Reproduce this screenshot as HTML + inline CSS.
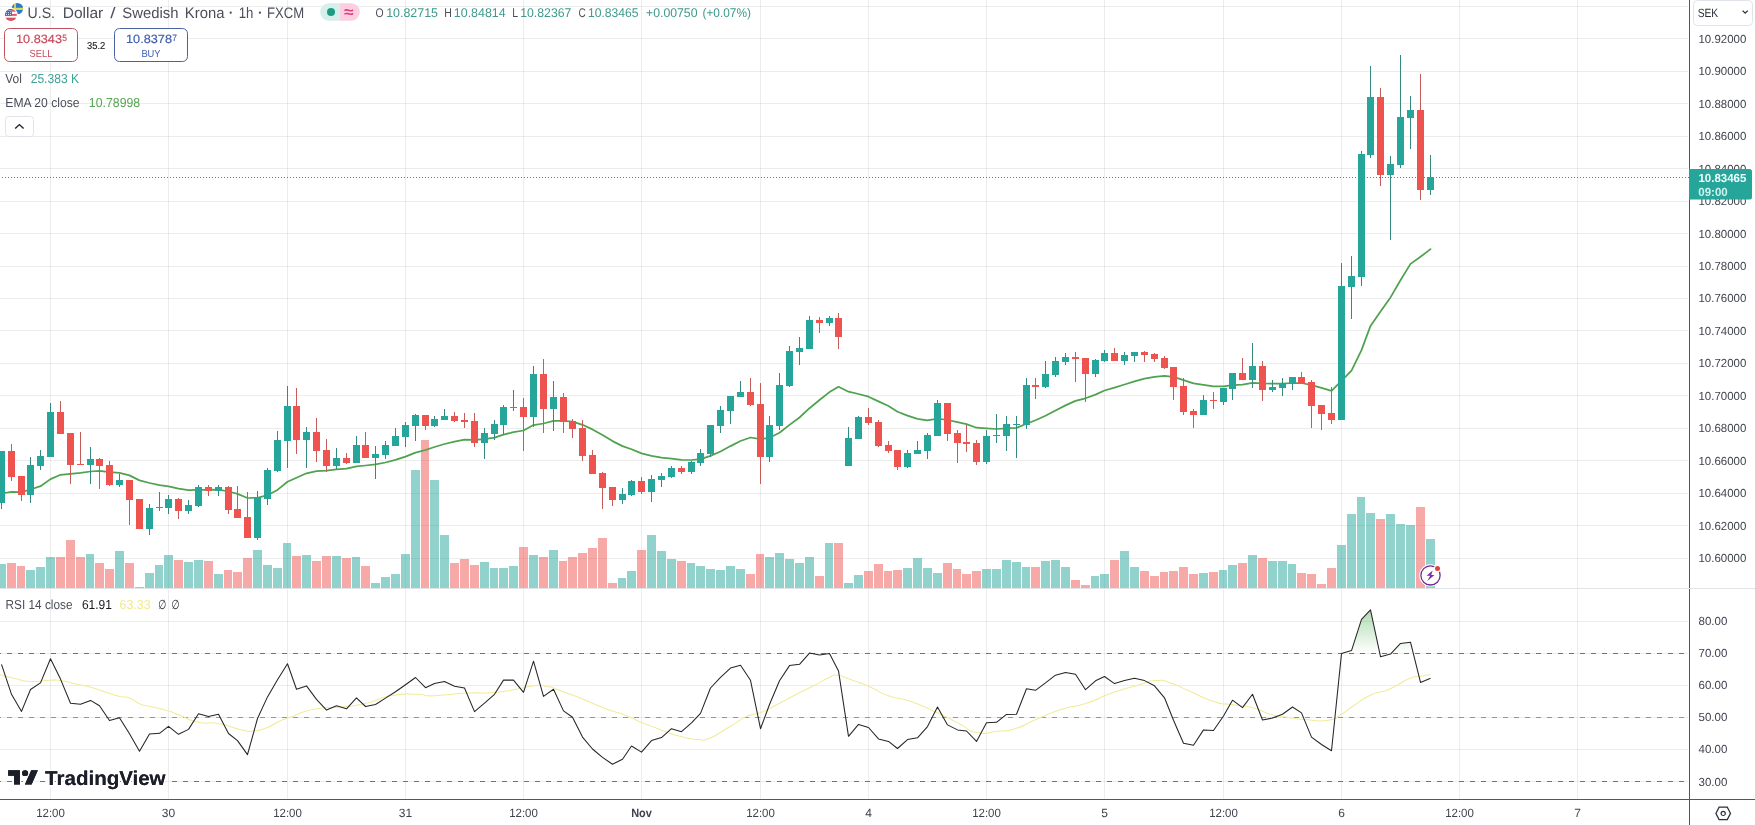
<!DOCTYPE html>
<html><head><meta charset="utf-8"><title>USDSEK chart</title><style>html,body{margin:0;padding:0;background:#fff;overflow:hidden}body{width:1755px;height:825px;font-family:"Liberation Sans",sans-serif}</style></head><body>
<svg width="1755" height="825" viewBox="0 0 1755 825" style="display:block;will-change:transform;text-rendering:geometricPrecision;font-family:'Liberation Sans',sans-serif">
<rect width="1755" height="825" fill="#fff"/>
<path d="M50.5 0V799 M168.5 0V799 M287.5 0V799 M405.5 0V799 M523.5 0V799 M641.5 0V799 M760.5 0V799 M868.5 0V799 M986.5 0V799 M1104.5 0V799 M1223.5 0V799 M1341.5 0V799 M1459.5 0V799 M1577.5 0V799" stroke="#2a2e39" stroke-opacity=".088" stroke-width="1" fill="none" shape-rendering="crispEdges"/>
<path d="M0 558.5H1688 M0 525.5H1688 M0 493.5H1688 M0 460.5H1688 M0 428.5H1688 M0 395.5H1688 M0 363.5H1688 M0 330.5H1688 M0 298.5H1688 M0 266.5H1688 M0 233.5H1688 M0 201.5H1688 M0 168.5H1688 M0 136.5H1688 M0 103.5H1688 M0 71.5H1688 M0 38.5H1688 M0 6.5H1688 M0 621.5H1688 M0 653.5H1688 M0 685.5H1688 M0 717.5H1688 M0 749.5H1688 M0 781.5H1688" stroke="#2a2e39" stroke-opacity=".088" stroke-width="1" fill="none" shape-rendering="crispEdges"/>
<path d="M0 564h6V588h-6zM26 570h9V588h-9zM36 567h9V588h-9zM46 557h9V588h-9zM86 554h8V588h-8zM115 551h9V588h-9zM145 573h9V588h-9zM155 565h8V588h-8zM164 555h9V588h-9zM184 562h9V588h-9zM194 560h9V588h-9zM214 574h9V588h-9zM253 550h9V588h-9zM263 565h9V588h-9zM273 568h9V588h-9zM283 543h8V588h-8zM302 555h9V588h-9zM332 556h9V588h-9zM352 557h8V588h-8zM371 583h9V588h-9zM381 577h9V588h-9zM391 574h9V588h-9zM401 554h9V588h-9zM411 470h9V588h-9zM430 480h9V588h-9zM440 535h9V588h-9zM480 562h9V588h-9zM490 568h8V588h-8zM499 568h9V588h-9zM509 566h9V588h-9zM529 555h9V588h-9zM549 550h9V588h-9zM618 578h8V588h-8zM627 571h9V588h-9zM647 535h9V588h-9zM657 551h9V588h-9zM667 559h9V588h-9zM687 563h8V588h-8zM696 566h9V588h-9zM706 569h9V588h-9zM716 570h9V588h-9zM726 566h9V588h-9zM736 569h9V588h-9zM765 557h9V588h-9zM775 553h9V588h-9zM785 559h9V588h-9zM795 563h9V588h-9zM805 557h9V588h-9zM825 543h8V588h-8zM844 583h9V588h-9zM854 575h9V588h-9zM903 568h9V588h-9zM913 558h9V588h-9zM923 568h9V588h-9zM933 573h9V588h-9zM982 569h9V588h-9zM992 569h9V588h-9zM1002 560h9V588h-9zM1012 562h9V588h-9zM1022 567h8V588h-8zM1041 561h9V588h-9zM1051 560h9V588h-9zM1061 567h9V588h-9zM1091 576h8V588h-8zM1100 574h9V588h-9zM1120 551h9V588h-9zM1130 567h9V588h-9zM1199 573h9V588h-9zM1219 570h8V588h-8zM1228 565h9V588h-9zM1248 555h9V588h-9zM1268 561h9V588h-9zM1278 561h9V588h-9zM1288 564h8V588h-8zM1337 545h9V588h-9zM1347 514h9V588h-9zM1357 497h8V588h-8zM1366 513h9V588h-9zM1386 514h9V588h-9zM1396 524h9V588h-9zM1406 525h9V588h-9zM1426 539h9V588h-9z" fill="#26a69a" fill-opacity=".5" shape-rendering="crispEdges"/>
<path d="M7 563h9V588h-9zM17 566h8V588h-8zM56 557h9V588h-9zM66 540h9V588h-9zM76 557h9V588h-9zM95 563h9V588h-9zM105 569h9V588h-9zM125 563h9V588h-9zM135 587h9V588h-9zM174 560h9V588h-9zM204 561h9V588h-9zM224 570h8V588h-8zM233 572h9V588h-9zM243 558h9V588h-9zM292 556h9V588h-9zM312 561h9V588h-9zM322 556h9V588h-9zM342 558h9V588h-9zM361 566h9V588h-9zM421 440h8V588h-8zM450 563h9V588h-9zM460 559h9V588h-9zM470 565h9V588h-9zM519 547h9V588h-9zM539 557h9V588h-9zM559 561h8V588h-8zM568 557h9V588h-9zM578 553h9V588h-9zM588 548h9V588h-9zM598 538h9V588h-9zM608 583h9V588h-9zM637 550h9V588h-9zM677 561h9V588h-9zM746 574h9V588h-9zM756 554h8V588h-8zM815 576h9V588h-9zM834 543h9V588h-9zM864 571h9V588h-9zM874 564h9V588h-9zM884 571h8V588h-8zM893 570h9V588h-9zM943 563h9V588h-9zM953 569h8V588h-8zM962 574h9V588h-9zM972 571h9V588h-9zM1031 567h9V588h-9zM1071 580h9V588h-9zM1081 585h9V588h-9zM1110 560h9V588h-9zM1140 571h9V588h-9zM1150 576h9V588h-9zM1160 572h8V588h-8zM1169 571h9V588h-9zM1179 567h9V588h-9zM1189 574h9V588h-9zM1209 572h9V588h-9zM1238 563h9V588h-9zM1258 558h9V588h-9zM1297 573h9V588h-9zM1307 574h9V588h-9zM1317 584h9V588h-9zM1327 568h9V588h-9zM1376 519h9V588h-9zM1416 507h9V588h-9z" fill="#ef5350" fill-opacity=".5" shape-rendering="crispEdges"/>
<polyline points="-9,493.5 1.5,493.5 11.5,491.9 21.5,492.1 30.5,489.5 40.5,486.2 50.5,479.1 60.5,474.8 70.5,473.8 80.5,472.9 90.5,471.5 99.5,470.9 109.5,472.2 119.5,472.9 129.5,475.4 139.5,480.4 149.5,483.0 159.5,485.2 168.5,486.4 178.5,488.7 188.5,490.2 198.5,489.9 208.5,489.9 218.5,489.6 228.5,491.5 237.5,493.9 247.5,498.0 257.5,497.9 267.5,495.2 277.5,489.9 287.5,481.8 296.5,477.7 306.5,473.3 316.5,471.1 326.5,470.6 336.5,469.3 346.5,468.6 356.5,466.4 365.5,465.5 375.5,464.3 385.5,462.5 395.5,459.9 405.5,456.6 415.5,452.6 425.5,450.0 434.5,447.0 444.5,444.0 454.5,441.7 464.5,439.7 474.5,439.9 484.5,439.2 494.5,437.7 503.5,434.7 513.5,432.1 523.5,430.5 533.5,425.1 543.5,423.5 553.5,420.9 563.5,420.9 572.5,421.6 582.5,424.8 592.5,429.4 602.5,434.9 612.5,441.1 622.5,446.1 631.5,449.3 641.5,453.4 651.5,455.8 661.5,457.6 671.5,458.6 681.5,459.8 691.5,460.0 700.5,459.2 710.5,455.9 720.5,451.5 730.5,446.1 740.5,441.0 750.5,437.5 760.5,439.2 769.5,437.8 779.5,432.8 789.5,424.9 799.5,417.5 809.5,408.2 819.5,400.0 829.5,392.1 838.5,386.8 848.5,391.7 858.5,394.0 868.5,396.7 878.5,401.4 888.5,406.0 897.5,411.8 907.5,415.6 917.5,418.9 927.5,420.3 937.5,418.6 947.5,420.0 957.5,422.1 966.5,424.1 976.5,427.7 986.5,428.4 996.5,429.0 1006.5,428.4 1016.5,427.9 1026.5,423.8 1035.5,420.3 1045.5,415.8 1055.5,410.5 1065.5,405.4 1075.5,400.9 1085.5,398.3 1095.5,394.6 1104.5,390.5 1114.5,387.6 1124.5,384.5 1134.5,381.3 1144.5,378.7 1154.5,376.8 1164.5,375.9 1173.5,376.9 1183.5,380.1 1193.5,383.4 1203.5,384.9 1213.5,386.4 1223.5,386.4 1232.5,385.1 1242.5,384.6 1252.5,382.8 1262.5,383.4 1272.5,383.7 1282.5,383.6 1292.5,383.0 1301.5,383.0 1311.5,385.1 1321.5,387.8 1331.5,390.8 1341.5,380.8 1351.5,370.7 1361.5,350.1 1370.5,325.9 1380.5,311.5 1390.5,297.4 1400.5,280.2 1410.5,263.9 1420.5,256.8 1430.5,249.1" fill="none" stroke="#4fa24f" stroke-width="1.75" stroke-linejoin="round" stroke-linecap="round"/>
<path d="M0 177.5H1689" stroke="#47857d" stroke-width="1" stroke-dasharray="1 2" stroke-dashoffset="1" shape-rendering="crispEdges"/>
<path d="M1 451h1V509h-1zM30 457h1V503h-1zM40 450h1V470h-1zM50 403h1V457h-1zM90 447h1V484h-1zM119 474h1V487h-1zM149 504h1V535h-1zM159 492h1V511h-1zM168 495h1V514h-1zM188 500h1V514h-1zM198 485h1V507h-1zM218 485h1V496h-1zM257 491h1V540h-1zM267 468h1V505h-1zM277 431h1V472h-1zM287 386h1V468h-1zM306 427h1V468h-1zM336 448h1V469h-1zM356 436h1V463h-1zM375 446h1V479h-1zM385 441h1V459h-1zM395 428h1V446h-1zM405 422h1V447h-1zM415 414h1V441h-1zM434 416h1V427h-1zM444 409h1V420h-1zM484 428h1V459h-1zM494 420h1V440h-1zM503 405h1V434h-1zM513 390h1V411h-1zM533 366h1V427h-1zM553 381h1V431h-1zM622 488h1V504h-1zM631 480h1V496h-1zM651 475h1V502h-1zM661 473h1V487h-1zM671 466h1V478h-1zM691 461h1V474h-1zM700 449h1V466h-1zM710 425h1V457h-1zM720 406h1V433h-1zM730 396h1V424h-1zM740 381h1V397h-1zM769 416h1V462h-1zM779 373h1V430h-1zM789 346h1V387h-1zM799 337h1V365h-1zM809 316h1V349h-1zM829 316h1V326h-1zM848 427h1V466h-1zM858 416h1V439h-1zM907 450h1V468h-1zM917 441h1V454h-1zM927 433h1V459h-1zM937 400h1V436h-1zM986 430h1V464h-1zM996 414h1V443h-1zM1006 416h1V451h-1zM1016 416h1V458h-1zM1026 378h1V429h-1zM1045 361h1V388h-1zM1055 357h1V377h-1zM1065 353h1V365h-1zM1095 359h1V377h-1zM1104 350h1V362h-1zM1124 352h1V365h-1zM1134 352h1V362h-1zM1203 395h1V415h-1zM1223 388h1V405h-1zM1232 373h1V400h-1zM1252 343h1V388h-1zM1272 380h1V392h-1zM1282 378h1V396h-1zM1292 377h1V390h-1zM1341 263h1V420h-1zM1351 256h1V319h-1zM1361 151h1V286h-1zM1370 66h1V158h-1zM1390 156h1V240h-1zM1400 55h1V168h-1zM1410 96h1V149h-1zM1430 155h1V195h-1z" fill="#35897f" shape-rendering="crispEdges"/>
<path d="M11 444h1V481h-1zM21 476h1V501h-1zM60 401h1V434h-1zM70 433h1V484h-1zM80 432h1V465h-1zM99 458h1V489h-1zM109 461h1V486h-1zM129 480h1V525h-1zM139 499h1V529h-1zM178 498h1V519h-1zM208 485h1V496h-1zM228 486h1V514h-1zM237 486h1V518h-1zM247 492h1V538h-1zM296 388h1V454h-1zM316 418h1V462h-1zM326 439h1V472h-1zM346 453h1V464h-1zM365 432h1V458h-1zM425 415h1V430h-1zM454 412h1V422h-1zM464 413h1V428h-1zM474 413h1V447h-1zM523 398h1V451h-1zM543 359h1V433h-1zM563 393h1V433h-1zM572 419h1V438h-1zM582 420h1V461h-1zM592 450h1V474h-1zM602 472h1V509h-1zM612 487h1V506h-1zM641 477h1V494h-1zM681 466h1V474h-1zM750 378h1V406h-1zM760 383h1V484h-1zM819 317h1V333h-1zM838 313h1V349h-1zM868 408h1V425h-1zM878 420h1V447h-1zM888 441h1V453h-1zM897 450h1V470h-1zM947 403h1V441h-1zM957 430h1V463h-1zM966 425h1V452h-1zM976 440h1V465h-1zM1035 378h1V399h-1zM1075 352h1V382h-1zM1085 358h1V402h-1zM1114 348h1V361h-1zM1144 351h1V362h-1zM1154 353h1V362h-1zM1164 356h1V369h-1zM1173 367h1V400h-1zM1183 378h1V415h-1zM1193 409h1V428h-1zM1213 392h1V409h-1zM1242 358h1V380h-1zM1262 361h1V401h-1zM1301 372h1V384h-1zM1311 380h1V428h-1zM1321 405h1V430h-1zM1331 387h1V424h-1zM1380 88h1V186h-1zM1420 74h1V200h-1z" fill="#c45c5a" shape-rendering="crispEdges"/>
<path d="M0 451h5V503h-5zM27 465h7V495h-7zM37 456h7V466h-7zM47 412h7V457h-7zM87 459h7V465h-7zM116 480h7V485h-7zM146 508h7V529h-7zM156 507h7V508h-7zM165 499h7V508h-7zM185 505h7V511h-7zM195 487h7V506h-7zM215 487h7V491h-7zM254 497h7V538h-7zM264 470h7V499h-7zM274 440h7V471h-7zM284 406h7V441h-7zM303 432h7V440h-7zM333 458h7V466h-7zM353 445h7V463h-7zM372 454h7V458h-7zM382 445h7V455h-7zM392 436h7V446h-7zM402 425h7V437h-7zM412 415h7V426h-7zM431 419h7V426h-7zM441 416h7V420h-7zM481 433h7V443h-7zM491 424h7V434h-7zM500 407h7V425h-7zM510 407h7V408h-7zM530 374h7V417h-7zM550 397h7V409h-7zM619 494h7V500h-7zM628 481h7V495h-7zM648 479h7V492h-7zM658 476h7V480h-7zM668 468h7V477h-7zM688 462h7V472h-7zM697 453h7V463h-7zM707 425h7V454h-7zM717 410h7V426h-7zM727 396h7V411h-7zM737 392h7V397h-7zM766 425h7V457h-7zM776 385h7V426h-7zM786 351h7V386h-7zM796 348h7V352h-7zM806 320h7V349h-7zM826 318h7V323h-7zM845 438h7V466h-7zM855 417h7V439h-7zM904 453h7V467h-7zM914 450h7V454h-7zM924 435h7V451h-7zM934 403h7V436h-7zM983 436h7V462h-7zM993 435h7V436h-7zM1003 424h7V436h-7zM1013 424h7V425h-7zM1023 385h7V425h-7zM1042 374h7V387h-7zM1052 361h7V375h-7zM1062 357h7V362h-7zM1092 360h7V374h-7zM1101 353h7V361h-7zM1121 355h7V361h-7zM1131 352h7V356h-7zM1200 400h7V415h-7zM1220 388h7V402h-7zM1229 373h7V389h-7zM1249 366h7V380h-7zM1269 387h7V390h-7zM1279 384h7V388h-7zM1289 377h7V384h-7zM1338 286h7V420h-7zM1348 276h7V287h-7zM1358 154h7V277h-7zM1367 97h7V155h-7zM1387 164h7V175h-7zM1397 117h7V165h-7zM1407 110h7V118h-7zM1427 177h7V190h-7z" fill="#26a69a" shape-rendering="crispEdges"/>
<path d="M8 451h7V477h-7zM18 476h7V495h-7zM57 412h7V434h-7zM67 433h7V465h-7zM77 464h7V465h-7zM96 459h7V466h-7zM106 465h7V485h-7zM126 480h7V500h-7zM136 499h7V529h-7zM175 499h7V511h-7zM205 487h7V491h-7zM225 487h7V510h-7zM234 509h7V518h-7zM244 517h7V538h-7zM293 406h7V440h-7zM313 432h7V451h-7zM323 450h7V466h-7zM343 458h7V463h-7zM362 445h7V458h-7zM422 415h7V426h-7zM451 416h7V421h-7zM461 420h7V422h-7zM471 421h7V443h-7zM520 407h7V417h-7zM540 374h7V409h-7zM560 397h7V422h-7zM569 421h7V429h-7zM579 428h7V456h-7zM589 455h7V474h-7zM599 473h7V488h-7zM609 487h7V500h-7zM638 481h7V492h-7zM678 468h7V472h-7zM747 392h7V405h-7zM757 404h7V457h-7zM816 320h7V323h-7zM835 318h7V337h-7zM865 417h7V423h-7zM875 422h7V446h-7zM885 445h7V451h-7zM894 450h7V467h-7zM944 403h7V434h-7zM954 433h7V443h-7zM963 442h7V444h-7zM973 443h7V462h-7zM1032 385h7V387h-7zM1072 357h7V359h-7zM1082 358h7V374h-7zM1111 353h7V361h-7zM1141 352h7V355h-7zM1151 354h7V359h-7zM1161 358h7V368h-7zM1170 367h7V387h-7zM1180 386h7V412h-7zM1190 411h7V415h-7zM1210 400h7V401h-7zM1239 373h7V380h-7zM1259 366h7V390h-7zM1298 377h7V384h-7zM1308 382h7V406h-7zM1318 405h7V414h-7zM1328 413h7V420h-7zM1377 97h7V175h-7zM1417 110h7V190h-7z" fill="#ef5350" shape-rendering="crispEdges"/>
<defs><linearGradient id="ob" gradientUnits="userSpaceOnUse" x1="0" y1="556.8" x2="0" y2="653.1"><stop offset="0" stop-color="#4caf50" stop-opacity="1"/><stop offset="1" stop-color="#4caf50" stop-opacity="0"/></linearGradient><clipPath id="c70"><rect x="0" y="590" width="1689" height="63.5"/></clipPath></defs>
<polygon points="1.0,653.5 1.5,664.3 11.5,694.3 21.5,711.4 30.5,689.5 40.5,682.9 50.5,658.7 60.5,679.1 70.5,703.2 80.5,704.2 90.5,700.4 99.5,705.8 109.5,720.5 119.5,717.7 129.5,733.8 139.5,751.3 149.5,734.0 159.5,733.3 168.5,726.4 178.5,734.3 188.5,729.4 198.5,713.7 208.5,716.5 218.5,714.2 228.5,733.5 237.5,740.6 247.5,754.6 257.5,718.5 267.5,696.9 277.5,679.8 287.5,663.8 296.5,689.2 306.5,685.9 316.5,699.4 326.5,710.1 336.5,705.8 346.5,708.8 356.5,697.9 365.5,706.5 375.5,704.5 385.5,698.1 395.5,691.8 405.5,684.7 415.5,677.5 425.5,687.7 434.5,683.6 444.5,681.6 454.5,686.2 464.5,688.0 474.5,711.6 484.5,703.2 494.5,694.3 503.5,680.1 513.5,680.1 523.5,692.3 533.5,661.2 543.5,696.4 553.5,689.2 563.5,710.9 572.5,717.2 582.5,737.1 592.5,749.0 602.5,757.4 612.5,764.3 622.5,759.2 631.5,746.0 641.5,752.1 651.5,740.6 661.5,737.6 671.5,728.7 681.5,731.7 691.5,722.8 700.5,713.4 710.5,688.0 720.5,677.3 730.5,668.1 740.5,665.3 750.5,680.3 760.5,728.7 769.5,704.5 779.5,680.8 789.5,665.6 799.5,664.3 809.5,653.1 819.5,654.9 829.5,653.4 838.5,670.9 848.5,736.3 858.5,724.4 868.5,727.5 878.5,738.9 888.5,741.4 897.5,748.5 907.5,739.6 917.5,737.8 927.5,726.6 937.5,707.0 947.5,724.9 957.5,729.9 966.5,731.0 976.5,741.4 986.5,722.8 996.5,722.3 1006.5,714.4 1016.5,714.2 1026.5,688.7 1035.5,690.3 1045.5,682.9 1055.5,675.2 1065.5,672.4 1075.5,674.2 1085.5,689.7 1095.5,680.8 1104.5,676.5 1114.5,683.6 1124.5,680.6 1134.5,678.3 1144.5,680.6 1154.5,685.8 1164.5,697.8 1173.5,720.3 1183.5,743.2 1193.5,745.2 1203.5,729.9 1213.5,730.5 1223.5,716.0 1232.5,700.2 1242.5,707.6 1252.5,694.3 1262.5,720.0 1272.5,718.0 1282.5,714.2 1292.5,707.0 1301.5,712.9 1311.5,737.1 1321.5,744.5 1331.5,750.8 1341.5,653.6 1351.5,650.6 1361.5,619.3 1370.5,609.8 1380.5,656.7 1390.5,654.1 1400.5,643.4 1410.5,642.2 1420.5,682.4 1430.5,678.3 1430.5,653.5" fill="url(#ob)" clip-path="url(#c70)"/>
<path d="M0 653.5H1685" stroke="#56826a" stroke-width="1" stroke-dasharray="5 6" stroke-dashoffset="4" shape-rendering="crispEdges"/>
<path d="M0 717.5H1685" stroke="#8f9794" stroke-width="1" stroke-dasharray="5 6" stroke-dashoffset="4" shape-rendering="crispEdges"/>
<path d="M0 781.5H1685" stroke="#b5545c" stroke-width="1" stroke-dasharray="5 6" stroke-dashoffset="4" shape-rendering="crispEdges"/>
<path d="M-2.0 674.3C3.7 675.7 4.4 676.2 15.2 678.6C26.0 681.0 18.7 681.0 30.3 681.5C41.9 682.0 39.9 680.5 50.0 680.2C60.1 679.9 52.0 679.4 60.6 680.6C69.2 681.8 65.7 681.7 75.8 683.9C85.9 686.1 80.8 684.5 90.9 687.3C101.0 690.1 96.5 689.2 106.1 692.3C115.7 695.4 112.1 694.7 119.7 696.5C127.3 698.3 122.2 695.4 128.8 697.8C135.4 700.2 131.8 700.7 139.4 703.7C147.0 706.7 142.4 704.4 151.5 706.7C160.6 709.0 157.2 707.6 166.7 710.5C176.2 713.4 169.4 711.4 180.0 715.3C190.6 719.2 185.6 719.5 198.5 722.3C211.4 725.1 204.4 721.0 218.8 723.6C233.2 726.2 229.8 727.6 241.7 730.0C253.6 732.4 246.0 731.6 254.5 730.7C263.0 729.8 258.7 730.6 267.2 727.4C275.7 724.2 272.3 724.4 279.9 721.0C287.5 717.6 278.2 721.2 290.0 717.2C301.8 713.2 298.4 712.5 315.4 709.1C332.4 705.7 323.9 709.0 340.9 707.0C357.9 705.0 349.3 707.0 366.3 703.2C383.3 699.4 374.8 698.6 391.8 695.6C408.8 692.6 405.1 694.2 417.2 694.3C429.3 694.4 419.5 695.5 428.0 695.8C436.5 696.1 429.3 696.0 442.7 695.1C456.1 694.2 451.1 694.0 468.1 693.1C485.1 692.2 476.6 694.0 493.6 692.5C510.6 691.0 505.4 691.0 519.0 688.7C532.6 686.4 525.0 686.4 534.3 685.7C543.6 685.0 538.4 684.9 547.0 686.5C555.6 688.1 548.4 686.4 560.0 690.5C571.6 694.6 567.3 692.9 581.8 698.7C596.3 704.5 589.1 702.5 603.6 708.0C618.1 713.5 612.9 710.6 625.4 715.3C637.9 720.0 630.3 717.7 641.2 722.2C652.1 726.7 648.8 725.1 658.1 728.7C667.4 732.3 661.7 730.6 669.0 733.1C676.3 735.6 672.7 734.4 680.0 736.3C687.3 738.2 684.6 737.6 690.9 738.7C697.2 739.8 693.0 739.5 699.0 739.5C705.0 739.5 699.8 742.2 708.9 738.6C718.0 735.0 714.2 735.9 726.3 728.7C738.4 721.5 736.9 721.7 745.2 717.1C753.5 712.5 746.1 716.4 751.1 714.9C756.1 713.4 753.8 714.9 760.1 712.7C766.4 710.5 759.4 713.6 770.0 708.3C780.6 703.0 777.3 704.2 791.8 696.7C806.3 689.2 801.5 692.0 813.6 685.8C825.7 679.6 820.4 681.6 828.1 678.1C835.8 674.6 829.5 674.8 836.8 675.2C844.1 675.6 838.8 675.4 849.9 679.3C861.0 683.2 857.4 681.5 870.0 686.9C882.6 692.3 875.1 691.0 887.8 695.6C900.5 700.2 892.9 695.6 908.2 700.7C923.5 705.8 916.6 703.3 933.6 710.9C950.6 718.5 944.7 716.4 959.1 723.6C973.5 730.8 964.2 730.0 976.9 732.5C989.6 735.0 984.5 732.5 997.2 731.2C1009.9 729.9 1002.3 732.5 1015.0 728.7C1027.7 724.9 1020.1 726.2 1035.4 719.8C1050.7 713.4 1043.8 715.1 1060.8 709.6C1077.8 704.1 1069.3 708.7 1086.3 703.2C1103.3 697.7 1094.7 699.0 1111.7 693.1C1128.7 687.2 1122.4 689.6 1137.2 685.4C1152.0 681.2 1144.9 681.4 1156.0 680.6C1167.1 679.8 1159.7 679.6 1170.4 682.9C1181.1 686.2 1173.8 684.3 1188.2 690.5C1202.6 696.7 1199.2 696.8 1213.6 701.5C1228.0 706.2 1218.7 702.5 1231.4 704.5C1244.1 706.5 1238.2 704.2 1251.8 707.6C1265.4 711.0 1259.4 711.3 1272.1 714.7C1284.8 718.1 1278.0 716.0 1289.9 717.7C1301.8 719.4 1295.1 718.9 1307.8 719.8C1320.5 720.7 1317.1 722.0 1328.1 720.3C1339.1 718.6 1332.3 719.5 1340.8 714.7C1349.3 709.9 1343.4 712.4 1353.6 705.8C1363.8 699.2 1359.5 700.3 1371.4 694.8C1383.3 689.3 1376.5 694.6 1389.2 689.2C1401.9 683.8 1399.3 682.8 1409.5 678.6C1419.7 674.4 1412.7 677.9 1419.7 676.5C1426.7 675.1 1426.9 675.2 1430.5 674.5" fill="none" stroke="#f2eb98" stroke-width="1.05"/>
<polyline points="1.5,664.3 11.5,694.3 21.5,711.4 30.5,689.5 40.5,682.9 50.5,658.7 60.5,679.1 70.5,703.2 80.5,704.2 90.5,700.4 99.5,705.8 109.5,720.5 119.5,717.7 129.5,733.8 139.5,751.3 149.5,734.0 159.5,733.3 168.5,726.4 178.5,734.3 188.5,729.4 198.5,713.7 208.5,716.5 218.5,714.2 228.5,733.5 237.5,740.6 247.5,754.6 257.5,718.5 267.5,696.9 277.5,679.8 287.5,663.8 296.5,689.2 306.5,685.9 316.5,699.4 326.5,710.1 336.5,705.8 346.5,708.8 356.5,697.9 365.5,706.5 375.5,704.5 385.5,698.1 395.5,691.8 405.5,684.7 415.5,677.5 425.5,687.7 434.5,683.6 444.5,681.6 454.5,686.2 464.5,688.0 474.5,711.6 484.5,703.2 494.5,694.3 503.5,680.1 513.5,680.1 523.5,692.3 533.5,661.2 543.5,696.4 553.5,689.2 563.5,710.9 572.5,717.2 582.5,737.1 592.5,749.0 602.5,757.4 612.5,764.3 622.5,759.2 631.5,746.0 641.5,752.1 651.5,740.6 661.5,737.6 671.5,728.7 681.5,731.7 691.5,722.8 700.5,713.4 710.5,688.0 720.5,677.3 730.5,668.1 740.5,665.3 750.5,680.3 760.5,728.7 769.5,704.5 779.5,680.8 789.5,665.6 799.5,664.3 809.5,653.1 819.5,654.9 829.5,653.4 838.5,670.9 848.5,736.3 858.5,724.4 868.5,727.5 878.5,738.9 888.5,741.4 897.5,748.5 907.5,739.6 917.5,737.8 927.5,726.6 937.5,707.0 947.5,724.9 957.5,729.9 966.5,731.0 976.5,741.4 986.5,722.8 996.5,722.3 1006.5,714.4 1016.5,714.2 1026.5,688.7 1035.5,690.3 1045.5,682.9 1055.5,675.2 1065.5,672.4 1075.5,674.2 1085.5,689.7 1095.5,680.8 1104.5,676.5 1114.5,683.6 1124.5,680.6 1134.5,678.3 1144.5,680.6 1154.5,685.8 1164.5,697.8 1173.5,720.3 1183.5,743.2 1193.5,745.2 1203.5,729.9 1213.5,730.5 1223.5,716.0 1232.5,700.2 1242.5,707.6 1252.5,694.3 1262.5,720.0 1272.5,718.0 1282.5,714.2 1292.5,707.0 1301.5,712.9 1311.5,737.1 1321.5,744.5 1331.5,750.8 1341.5,653.6 1351.5,650.6 1361.5,619.3 1370.5,609.8 1380.5,656.7 1390.5,654.1 1400.5,643.4 1410.5,642.2 1420.5,682.4 1430.5,678.3" fill="none" stroke="#262626" stroke-width="1.05" stroke-linejoin="round"/>
<path d="M1689.5 0V825M0 799.5H1755" stroke="#55575c" stroke-width="1" shape-rendering="crispEdges"/>
<path d="M0 588.5H1755" stroke="#e2e3e6" stroke-width="1" shape-rendering="crispEdges"/>
<text x="1698.5" y="561.7" font-size="11.7" fill="#40434e" textLength="47.8" lengthAdjust="spacingAndGlyphs" >10.60000</text>
<text x="1698.5" y="529.7" font-size="11.7" fill="#40434e" textLength="47.8" lengthAdjust="spacingAndGlyphs" >10.62000</text>
<text x="1698.5" y="496.7" font-size="11.7" fill="#40434e" textLength="47.8" lengthAdjust="spacingAndGlyphs" >10.64000</text>
<text x="1698.5" y="464.7" font-size="11.7" fill="#40434e" textLength="47.8" lengthAdjust="spacingAndGlyphs" >10.66000</text>
<text x="1698.5" y="431.7" font-size="11.7" fill="#40434e" textLength="47.8" lengthAdjust="spacingAndGlyphs" >10.68000</text>
<text x="1698.5" y="399.7" font-size="11.7" fill="#40434e" textLength="47.8" lengthAdjust="spacingAndGlyphs" >10.70000</text>
<text x="1698.5" y="366.7" font-size="11.7" fill="#40434e" textLength="47.8" lengthAdjust="spacingAndGlyphs" >10.72000</text>
<text x="1698.5" y="334.7" font-size="11.7" fill="#40434e" textLength="47.8" lengthAdjust="spacingAndGlyphs" >10.74000</text>
<text x="1698.5" y="301.7" font-size="11.7" fill="#40434e" textLength="47.8" lengthAdjust="spacingAndGlyphs" >10.76000</text>
<text x="1698.5" y="269.7" font-size="11.7" fill="#40434e" textLength="47.8" lengthAdjust="spacingAndGlyphs" >10.78000</text>
<text x="1698.5" y="237.7" font-size="11.7" fill="#40434e" textLength="47.8" lengthAdjust="spacingAndGlyphs" >10.80000</text>
<text x="1698.5" y="204.7" font-size="11.7" fill="#40434e" textLength="47.8" lengthAdjust="spacingAndGlyphs" >10.82000</text>
<text x="1698.5" y="172.7" font-size="11.7" fill="#40434e" textLength="47.8" lengthAdjust="spacingAndGlyphs" >10.84000</text>
<text x="1698.5" y="139.7" font-size="11.7" fill="#40434e" textLength="47.8" lengthAdjust="spacingAndGlyphs" >10.86000</text>
<text x="1698.5" y="107.7" font-size="11.7" fill="#40434e" textLength="47.8" lengthAdjust="spacingAndGlyphs" >10.88000</text>
<text x="1698.5" y="74.7" font-size="11.7" fill="#40434e" textLength="47.8" lengthAdjust="spacingAndGlyphs" >10.90000</text>
<text x="1698.5" y="42.7" font-size="11.7" fill="#40434e" textLength="47.8" lengthAdjust="spacingAndGlyphs" >10.92000</text>
<text x="1698.5" y="624.65" font-size="11.7" fill="#40434e" textLength="28.8" lengthAdjust="spacingAndGlyphs" >80.00</text>
<text x="1698.5" y="656.65" font-size="11.7" fill="#40434e" textLength="28.8" lengthAdjust="spacingAndGlyphs" >70.00</text>
<text x="1698.5" y="688.65" font-size="11.7" fill="#40434e" textLength="28.8" lengthAdjust="spacingAndGlyphs" >60.00</text>
<text x="1698.5" y="720.65" font-size="11.7" fill="#40434e" textLength="28.8" lengthAdjust="spacingAndGlyphs" >50.00</text>
<text x="1698.5" y="752.65" font-size="11.7" fill="#40434e" textLength="28.8" lengthAdjust="spacingAndGlyphs" >40.00</text>
<text x="1698.5" y="785.65" font-size="11.7" fill="#40434e" textLength="28.8" lengthAdjust="spacingAndGlyphs" >30.00</text>
<path d="M1689 169h60.5a2.5 2.5 0 0 1 2.5 2.5v25.5a2.5 2.5 0 0 1 -2.5 2.5h-60.5z" fill="#26a69a"/>
<text x="1698.5" y="181.6" font-size="11.7" fill="#f2fffd" textLength="47.8" lengthAdjust="spacingAndGlyphs" font-weight="bold" >10.83465</text>
<text x="1698.3" y="195.8" font-size="11.7" fill="#cdf3ee" textLength="29.4" lengthAdjust="spacingAndGlyphs" font-weight="bold" >09:00</text>
<rect x="1693.5" y="0.5" width="59" height="25" rx="4" fill="#fff" stroke="#e0e3eb"/>
<text x="1697.7" y="16.8" font-size="12" fill="#2a2e39" textLength="20.5" lengthAdjust="spacingAndGlyphs" >SEK</text>
<path d="M1742.6 10.6l2.6 2.6 2.6-2.6" fill="none" stroke="#2a2e39" stroke-width="1.3"/>
<text x="50.5" y="816.7" font-size="12" fill="#40434e" textLength="28.7" lengthAdjust="spacingAndGlyphs" text-anchor="middle" >12:00</text>
<text x="168.5" y="816.7" font-size="12" fill="#40434e" text-anchor="middle" >30</text>
<text x="287.5" y="816.7" font-size="12" fill="#40434e" textLength="28.7" lengthAdjust="spacingAndGlyphs" text-anchor="middle" >12:00</text>
<text x="405.5" y="816.7" font-size="12" fill="#40434e" text-anchor="middle" >31</text>
<text x="523.5" y="816.7" font-size="12" fill="#40434e" textLength="28.7" lengthAdjust="spacingAndGlyphs" text-anchor="middle" >12:00</text>
<text x="641.5" y="816.7" font-size="12" fill="#40434e" textLength="20.7" lengthAdjust="spacingAndGlyphs" font-weight="bold" text-anchor="middle" >Nov</text>
<text x="760.5" y="816.7" font-size="12" fill="#40434e" textLength="28.7" lengthAdjust="spacingAndGlyphs" text-anchor="middle" >12:00</text>
<text x="868.5" y="816.7" font-size="12" fill="#40434e" text-anchor="middle" >4</text>
<text x="986.5" y="816.7" font-size="12" fill="#40434e" textLength="28.7" lengthAdjust="spacingAndGlyphs" text-anchor="middle" >12:00</text>
<text x="1104.5" y="816.7" font-size="12" fill="#40434e" text-anchor="middle" >5</text>
<text x="1223.5" y="816.7" font-size="12" fill="#40434e" textLength="28.7" lengthAdjust="spacingAndGlyphs" text-anchor="middle" >12:00</text>
<text x="1341.5" y="816.7" font-size="12" fill="#40434e" text-anchor="middle" >6</text>
<text x="1459.5" y="816.7" font-size="12" fill="#40434e" textLength="28.7" lengthAdjust="spacingAndGlyphs" text-anchor="middle" >12:00</text>
<text x="1577.5" y="816.7" font-size="12" fill="#40434e" text-anchor="middle" >7</text>
<g transform="translate(1723.2 813.4)" fill="none" stroke="#2a2e39" stroke-width="1.2"><path d="M-4.1 -6.2h8.2l3.2 6.2-3.2 6.2h-8.2l-3.2-6.2z"/><circle r="2.1"/></g>
<g><clipPath id="f1"><circle cx="17.4" cy="8.6" r="5.7"/></clipPath><g clip-path="url(#f1)"><rect x="11" y="2" width="13" height="13" fill="#2a7fc4"/><rect x="14.2" y="2" width="1.7" height="13" fill="#e3d960"/><rect x="11" y="7.8" width="13" height="2.1" fill="#e3d960"/></g><circle cx="10.9" cy="15" r="7" fill="#fff"/><clipPath id="f2"><circle cx="10.9" cy="15" r="6"/></clipPath><g clip-path="url(#f2)"><rect x="4" y="8" width="14" height="14" fill="#f6f6f8"/><rect x="4" y="8" width="14" height="3.6" fill="#d9545c"/><rect x="4" y="14" width="14" height="1.8" fill="#d9545c"/><rect x="4" y="17.7" width="14" height="4" fill="#d9545c"/><rect x="4" y="8" width="7.9" height="7.7" fill="#3f66b8"/><g fill="#e8f0fb"><circle cx="7" cy="10.6" r=".55"/><circle cx="9.1" cy="10.6" r=".55"/><circle cx="11" cy="10.6" r=".55"/><circle cx="6.2" cy="12.5" r=".55"/><circle cx="8.4" cy="12.5" r=".55"/><circle cx="10.6" cy="12.5" r=".55"/><circle cx="6.4" cy="14.4" r=".55"/><circle cx="8.5" cy="14.4" r=".55"/><circle cx="10.6" cy="14.4" r=".55"/></g></g></g>
<text x="27.6" y="17.9" font-size="15.2" fill="#4c4f5a" textLength="27.4" lengthAdjust="spacingAndGlyphs" >U.S.</text>
<text x="62.7" y="17.9" font-size="15.2" fill="#4c4f5a" textLength="40.6" lengthAdjust="spacingAndGlyphs" >Dollar</text>
<text x="110.3" y="17.9" font-size="15.2" fill="#4c4f5a" textLength="5.3" lengthAdjust="spacingAndGlyphs" >/</text>
<text x="122.3" y="17.9" font-size="15.2" fill="#4c4f5a" textLength="56.2" lengthAdjust="spacingAndGlyphs" >Swedish</text>
<text x="184.8" y="17.9" font-size="15.2" fill="#4c4f5a" textLength="39.6" lengthAdjust="spacingAndGlyphs" >Krona</text>
<text x="238.7" y="17.9" font-size="15.2" fill="#4c4f5a" textLength="14.7" lengthAdjust="spacingAndGlyphs" >1h</text>
<text x="267" y="17.9" font-size="15.2" fill="#4c4f5a" textLength="37.1" lengthAdjust="spacingAndGlyphs" >FXCM</text>
<circle cx="230.7" cy="12.7" r="1.15" fill="#4a4e59"/><circle cx="259.9" cy="12.7" r="1.15" fill="#4a4e59"/>
<path d="M329 3.2h10.8v17.6H329a8.8 8.8 0 0 1 0-17.6z" fill="#d6efeb"/><path d="M339.8 3.2H351a8.8 8.8 0 0 1 0 17.6h-11.2z" fill="#fbcfdf"/><circle cx="331" cy="12" r="4" fill="#1e9c83"/>
<text x="344" y="17" font-size="15" fill="#e2367a" textLength="9.5" lengthAdjust="spacingAndGlyphs" font-weight="bold" >≈</text>
<text x="375.5" y="16.8" font-size="12.6" fill="#4a4e59" textLength="8.1" lengthAdjust="spacingAndGlyphs" >O</text>
<text x="386.2" y="16.8" font-size="12.6" fill="#3d9a8d" textLength="51.8" lengthAdjust="spacingAndGlyphs" >10.82715</text>
<text x="444.3" y="16.8" font-size="12.6" fill="#4a4e59" textLength="7.6" lengthAdjust="spacingAndGlyphs" >H</text>
<text x="453.8" y="16.8" font-size="12.6" fill="#3d9a8d" textLength="51.9" lengthAdjust="spacingAndGlyphs" >10.84814</text>
<text x="512.2" y="16.8" font-size="12.6" fill="#4a4e59" textLength="5.8" lengthAdjust="spacingAndGlyphs" >L</text>
<text x="520.2" y="16.8" font-size="12.6" fill="#3d9a8d" textLength="51.2" lengthAdjust="spacingAndGlyphs" >10.82367</text>
<text x="578.4" y="16.8" font-size="12.6" fill="#4a4e59" textLength="7.3" lengthAdjust="spacingAndGlyphs" >C</text>
<text x="587.9" y="16.8" font-size="12.6" fill="#3d9a8d" textLength="50.6" lengthAdjust="spacingAndGlyphs" >10.83465</text>
<text x="646" y="16.8" font-size="12.6" fill="#3d9a8d" textLength="51.5" lengthAdjust="spacingAndGlyphs" >+0.00750</text>
<text x="702.5" y="16.8" font-size="12.6" fill="#3d9a8d" textLength="48.4" lengthAdjust="spacingAndGlyphs" >(+0.07%)</text>
<rect x="4.5" y="28.5" width="73" height="33" rx="5" fill="#fff" stroke="#bd5561"/>
<text x="16" y="42.9" font-size="12" fill="#c9485a" textLength="46" lengthAdjust="spacingAndGlyphs" stroke="#c9485a" stroke-width="0.16">10.8343</text>
<text x="62.2" y="40.9" font-size="9.5" fill="#c9485a" textLength="4.7" lengthAdjust="spacingAndGlyphs" stroke="#c9485a" stroke-width="0.16">5</text>
<text x="29.6" y="56.7" font-size="10.3" fill="#c9485a" textLength="22.8" lengthAdjust="spacingAndGlyphs" >SELL</text>
<text x="87" y="48.9" font-size="10" fill="#101114" textLength="18.3" lengthAdjust="spacingAndGlyphs" stroke="#101114" stroke-width="0.1">35.2</text>
<rect x="114.5" y="28.5" width="73" height="33" rx="5" fill="#fff" stroke="#47649f"/>
<text x="126" y="42.9" font-size="12" fill="#3c5cb0" textLength="46" lengthAdjust="spacingAndGlyphs" stroke="#3c5cb0" stroke-width="0.16">10.8378</text>
<text x="172.2" y="40.9" font-size="9.5" fill="#3c5cb0" textLength="4.7" lengthAdjust="spacingAndGlyphs" stroke="#3c5cb0" stroke-width="0.16">7</text>
<text x="141.4" y="56.7" font-size="10.3" fill="#3c5cb0" textLength="19.2" lengthAdjust="spacingAndGlyphs" >BUY</text>
<text x="5.3" y="83.3" font-size="13" fill="#4a4e59" textLength="16.6" lengthAdjust="spacingAndGlyphs" >Vol</text>
<text x="30.7" y="83.3" font-size="13" fill="#3fa196" textLength="48.3" lengthAdjust="spacingAndGlyphs" >25.383 K</text>
<text x="5.3" y="107.2" font-size="13" fill="#4a4e59" textLength="74.3" lengthAdjust="spacingAndGlyphs" >EMA 20 close</text>
<text x="88.8" y="107.2" font-size="13" fill="#58a552" textLength="51.4" lengthAdjust="spacingAndGlyphs" >10.78998</text>
<rect x="5.5" y="116.5" width="28" height="20" rx="3" fill="#fff" stroke="#e0e3eb"/><path d="M15.2 128.6l4.2-4 4.2 4" fill="none" stroke="#1e2029" stroke-width="1.4"/>
<text x="5.6" y="609.2" font-size="13" fill="#4a4e59" textLength="66.9" lengthAdjust="spacingAndGlyphs" >RSI 14 close</text>
<text x="81.9" y="609.2" font-size="13" fill="#17191f" textLength="30.1" lengthAdjust="spacingAndGlyphs" >61.91</text>
<text x="119.6" y="609.2" font-size="13" fill="#f2e88e" textLength="31" lengthAdjust="spacingAndGlyphs" >63.33</text>
<text x="158.3" y="609.2" font-size="13" fill="#1f222b" textLength="8" lengthAdjust="spacingAndGlyphs" >∅</text>
<text x="171.6" y="609.2" font-size="13" fill="#1f222b" textLength="8" lengthAdjust="spacingAndGlyphs" >∅</text>
<g transform="translate(8.2 770.3) scale(0.836 0.795)" fill="#1c1f2a" stroke="#fff" stroke-width="3.5" paint-order="stroke" stroke-linejoin="round"><path d="M14 18H7V7H0V0h14v18zM28 18h-8l7.5-18h8L28 18z"/><circle cx="20.2" cy="3.6" r="3.6"/></g>
<g transform="translate(8.2 770.3) scale(0.836 0.795)" fill="#1c1f2a"><path d="M14 18H7V7H0V0h14v18zM28 18h-8l7.5-18h8L28 18z"/><circle cx="20.2" cy="3.6" r="3.6"/></g>
<text x="45.1" y="784.7" font-size="20" fill="#1c1f2a" textLength="120.5" lengthAdjust="spacingAndGlyphs" font-weight="bold" stroke="#fff" stroke-width="4" paint-order="stroke" stroke-linejoin="round">TradingView</text>
<text x="45.1" y="784.7" font-size="20" fill="#1c1f2a" textLength="120.5" lengthAdjust="spacingAndGlyphs" font-weight="bold" >TradingView</text>
<g><circle cx="1430.5" cy="575.4" r="11.2" fill="#fff"/><circle cx="1430.5" cy="575.4" r="9.6" fill="#fff" stroke="#6f2a99" stroke-width="1.3"/><path d="M1432.7 570.4L1426.5 575.8H1430.2L1427.3 580.9L1434.5 575.0H1431.2Z" fill="#7a2da6"/><circle cx="1437.5" cy="568.4" r="3.6" fill="#fff"/><circle cx="1437.5" cy="568.4" r="2.5" fill="#e04040"/></g>
</svg>
</body></html>
